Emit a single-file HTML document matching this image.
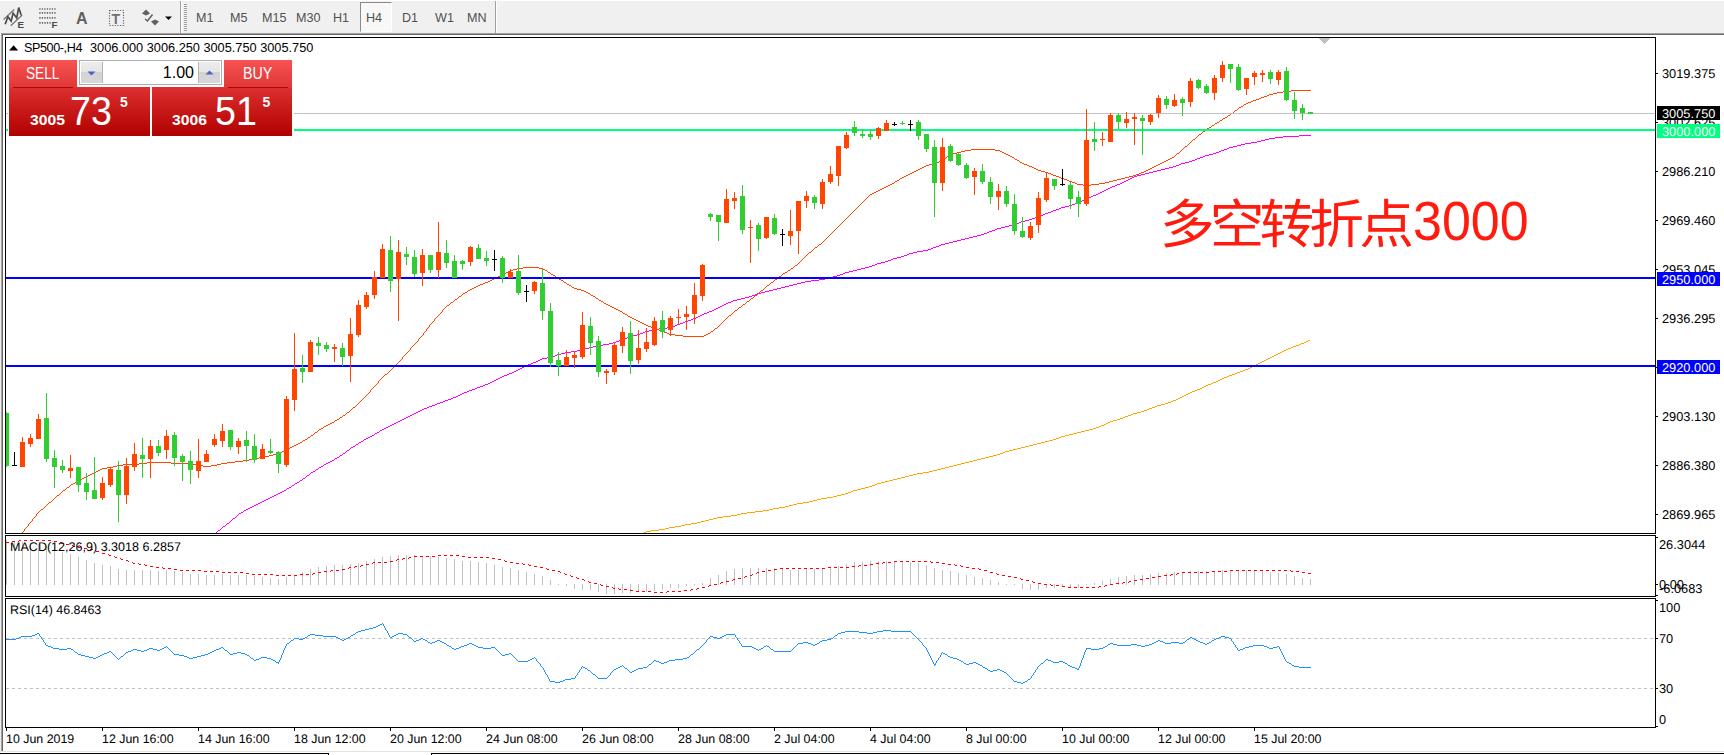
<!DOCTYPE html>
<html lang="zh"><head><meta charset="utf-8"><title>SP500-,H4</title>
<style>
html,body{margin:0;padding:0;background:#fff}
body{width:1724px;height:755px;position:relative;overflow:hidden;font-family:"Liberation Sans","Noto Sans CJK SC",sans-serif;color:#000}
.abs{position:absolute}
#tb{left:0;top:0;width:1724px;height:33px;background:#f0f0f0}
#tb .t{position:absolute;top:10px;font-size:12.6px;line-height:16px;color:#505050;white-space:nowrap}
.note{font-size:52.4px;line-height:72px;color:#ff1c0e;white-space:nowrap}
.ttl{left:24px;top:41px;font-size:12.6px;line-height:15px;white-space:pre}
.red{background:linear-gradient(#f85252,#e03636)}
.big{background:linear-gradient(#de3030,#b00000)}
.w{color:#fff;white-space:nowrap}
</style></head><body>
<div id="tb" class="abs">
<div class="abs" style="left:0;top:0;width:1724px;height:1px;background:#fff"></div>
<svg class="abs" style="left:0;top:0" width="200" height="33" viewBox="0 0 200 33">
 <g fill="none">
  <path d="M3.6 19.5 L14.3 9.4 M10.7 25.8 L22.2 15.1" stroke="#7a7a7a" stroke-width="1.4"/>
  <path d="M5.2 24.2 L7.9 16.7 L11.1 21.1 L13.1 13.1 L16.7 17.9 L18.7 7.6 L21.1 15.1" stroke="#4c4c4c" stroke-width="1.7" stroke-linejoin="miter"/>
 </g>
 <text x="17.6" y="28.4" font-family="Liberation Sans, sans-serif" font-size="9.8px" font-weight="bold" fill="#484848">E</text>
 <g stroke="#686868" stroke-width="1.7" stroke-dasharray="1.3 1.2" fill="none">
  <path d="M39.3 9H56.5 M39.3 12.8H56.5 M39.3 17.9H56.5 M39.3 22.9H51.5"/>
 </g>
 <text x="51.6" y="28.3" font-family="Liberation Sans, sans-serif" font-size="9.8px" font-weight="bold" fill="#484848">F</text>
 <text x="76" y="23.5" font-family="Liberation Sans, sans-serif" font-size="16px" font-weight="bold" fill="#606060">A</text>
 <rect x="109.5" y="10.5" width="14" height="15" fill="none" stroke="#707070" stroke-width="1.2" stroke-dasharray="1.3 1.3"/>
 <text x="111.5" y="23.5" font-family="Liberation Sans, sans-serif" font-size="14px" font-weight="bold" fill="#707070">T</text>
 <g fill="#606060"><path d="M142 13.5 L146 9.5 L150 13.5 L146 15.5Z"/><path d="M151 21.5 L155 25.5 L159 21.5 L155 19.5Z"/></g>
 <path d="M145 19 L147.5 21 L152.5 14.5" stroke="#606060" stroke-width="1.5" fill="none"/>
 <path d="M165 16.5 H172 L168.5 20Z" fill="#000"/>
 <rect x="180" y="1" width="1" height="32" fill="#a0a0a0"/><rect x="181" y="1" width="1" height="32" fill="#fff"/>
 <g fill="#a0a0a0"><rect x="184" y="4" width="3" height="1"/><rect x="184" y="6" width="3" height="1"/><rect x="184" y="8" width="3" height="1"/><rect x="184" y="10" width="3" height="1"/><rect x="184" y="12" width="3" height="1"/><rect x="184" y="14" width="3" height="1"/><rect x="184" y="16" width="3" height="1"/><rect x="184" y="18" width="3" height="1"/><rect x="184" y="20" width="3" height="1"/><rect x="184" y="22" width="3" height="1"/><rect x="184" y="24" width="3" height="1"/><rect x="184" y="26" width="3" height="1"/><rect x="184" y="28" width="3" height="1"/><rect x="184" y="30" width="3" height="1"/></g>
</svg>
<div class="abs" style="left:360px;top:2px;width:32px;height:30px;background:#f8f8f8;border-left:1px solid #8a8a8a;border-top:1px solid #8a8a8a;border-right:1px solid #fff;border-bottom:1px solid #fff;box-sizing:border-box"></div>
<span class="t" style="left:196px">M1</span><span class="t" style="left:230px">M5</span><span class="t" style="left:262px">M15</span><span class="t" style="left:296px">M30</span><span class="t" style="left:333px">H1</span><span class="t" style="left:366px">H4</span><span class="t" style="left:402px">D1</span><span class="t" style="left:435px">W1</span><span class="t" style="left:467px">MN</span>
<div class="abs" style="left:495px;top:1px;width:1px;height:32px;background:#a0a0a0"></div><div class="abs" style="left:496px;top:1px;width:1px;height:32px;background:#fff"></div>
</div>
<div class="abs" style="left:0;top:33px;width:1724px;height:1px;background:#a0a0a0"></div>
<div class="abs" style="left:0;top:34px;width:1724px;height:1px;background:#696969"></div>
<div class="abs" style="left:0;top:33px;width:1px;height:722px;background:#f0f0f0"></div>
<div class="abs" style="left:1px;top:33px;width:1px;height:719px;background:#a0a0a0"></div>
<div class="abs" style="left:2px;top:34px;width:1px;height:718px;background:#696969"></div>
<div class="abs" style="left:0;top:751px;width:1724px;height:1px;background:#e3e3e3"></div>
<div class="abs" style="left:0;top:753px;width:329px;height:1px;background:#000"></div>
<div class="abs" style="left:328px;top:753px;width:1px;height:2px;background:#000"></div>
<div class="abs" style="left:431px;top:753px;width:1293px;height:1px;background:#000"></div>
<div class="abs" style="left:431px;top:753px;width:1px;height:2px;background:#000"></div>
<svg width="1724" height="755" viewBox="0 0 1724 755" style="position:absolute;left:0;top:0" shape-rendering="crispEdges"><path d="M644 532.5h2m0-1h5m0-1h8m0-1h6m0-1h4m0-1h6m0-1h6m0-1h4m0-1h6m0-1h6m0-1h4m0-1h4m0-1h4m0-1h4m0-1h4m0-1h6m0-1h8m0-1h6m0-1h4m0-1h6m0-1h8m0-1h8m0-1h6m0-1h4m0-1h6m0-1h6m0-1h4m0-1h4m0-1h4m0-1h6m0-1h6m0-1h4m0-1h4m0-1h4m0-1h6m0-1h6m0-1h4m0-1h4m0-1h4m0-1h3m0-1h3m0-1h2m0-1h4m0-1h4m0-1h4m0-1h4m0-1h3m0-1h3m0-1h2m0-1h4m0-1h4m0-1h4m0-1h4m0-1h4m0-1h4m0-1h4m0-1h4m0-1h4m0-1h4m0-1h6m0-1h6m0-1h4m0-1h4m0-1h4m0-1h4m0-1h4m0-1h4m0-1h4m0-1h4m0-1h4m0-1h4m0-1h4m0-1h4m0-1h4m0-1h4m0-1h4m0-1h4m0-1h4m0-1h3m0-1h3m0-1h2m0-1h4m0-1h4m0-1h4m0-1h4m0-1h4m0-1h4m0-1h4m0-1h4m0-1h4m0-1h4m0-1h4m0-1h4m0-1h3m0-1h3m0-1h2m0-1h4m0-1h4m0-1h4m0-1h4m0-1h4m0-1h4m0-1h4m0-1h4m0-1h3m0-1h3m0-1h2m0-1h3m0-1h2m0-1h2m0-1h2m0-1h3m0-1h4m0-1h3m0-1h3m0-1h2m0-1h3m0-1h3m0-1h2m0-1h4m0-1h4m0-1h3m0-1h3m0-1h2m0-1h3m0-1h3m0-1h2m0-1h4m0-1h4m0-1h3m0-1h3m0-1h2m0-1h3m0-1h2m0-1h2m0-1h2m0-1h2m0-1h2m0-1h2m0-1h2m0-1h2m0-1h3m0-1h2m0-1h3m0-1h2m0-1h2m0-1h2m0-1h2m0-1h3m0-1h2m0-1h3m0-1h2m0-1h2m0-1h2m0-1h2m0-1h3m0-1h2m0-1h3m0-1h3m0-1h2m0-1h3m0-1h3m0-1h2m0-1h3m0-1h2m0-1h2m0-1h2m0-1h2m0-1h2m0-1h2m0-1h2m0-1h2m0-1h2m0-1h2m0-1h2m0-1h2m0-1h2m0-1h2m0-1h2m0-1h2m0-1h2m0-1h2m0-1h2m0-1h2m0-1h3m0-1h2m0-1h3m0-1h3m0-1h2m0-1h3m0-1h2m0-1h2m0-1h2" fill="none" stroke="#ffa500" stroke-width="1"/><path d="M216 532.5h1m0-1h1m0-1h2m0-1h1m0-1h1m0-1h1m0-1h2m0-1h1m0-1h1m0-1h2m0-1h1m0-1h1m0-1h1m0-1h1m0-1h2m0-1h1m0-1h1m0-1h1m0-1h1m0-1h2m0-1h2m0-1h1m0-1h2m0-1h2m0-1h2m0-1h2m0-1h2m0-1h2m0-1h2m0-1h2m0-1h2m0-1h2m0-1h2m0-1h2m0-1h2m0-1h2m0-1h2m0-1h2m0-1h2m0-1h2m0-1h2m0-1h2m0-1h2m0-1h1m0-1h2m0-1h2m0-1h1m0-1h2m0-1h1m0-1h2m0-1h2m0-1h1m0-1h2m0-1h1m0-1h2m0-1h1m0-1h1m0-1h2m0-1h1m0-1h1m0-1h2m0-1h2m0-1h1m0-1h2m0-1h1m0-1h2m0-1h2m0-1h1m0-1h2m0-1h2m0-1h2m0-1h2m0-1h2m0-1h1m0-1h2m0-1h2m0-1h1m0-1h2m0-1h1m0-1h2m0-1h1m0-1h1m0-1h2m0-1h1m0-1h1m0-1h2m0-1h2m0-1h1m0-1h2m0-1h1m0-1h2m0-1h2m0-1h1m0-1h2m0-1h2m0-1h2m0-1h2m0-1h2m0-1h1m0-1h2m0-1h2m0-1h1m0-1h2m0-1h2m0-1h2m0-1h2m0-1h2m0-1h2m0-1h2m0-1h2m0-1h2m0-1h2m0-1h2m0-1h2m0-1h2m0-1h2m0-1h2m0-1h2m0-1h2m0-1h2m0-1h2m0-1h2m0-1h2m0-1h2m0-1h3m0-1h2m0-1h3m0-1h3m0-1h2m0-1h3m0-1h3m0-1h2m0-1h3m0-1h3m0-1h2m0-1h3m0-1h2m0-1h2m0-1h2m0-1h2m0-1h3m0-1h2m0-1h3m0-1h3m0-1h2m0-1h3m0-1h3m0-1h2m0-1h3m0-1h2m0-1h2m0-1h2m0-1h2m0-1h2m0-1h2m0-1h2m0-1h2m0-1h3m0-1h2m0-1h3m0-1h2m0-1h2m0-1h2m0-1h2m0-1h2m0-1h2m0-1h2m0-1h2m0-1h3m0-1h2m0-1h3m0-1h2m0-1h2m0-1h2m0-1h5m0-1h5m0-1h3m0-1h2m0-1h4m0-1h4m0-1h6m0-1h6m0-1h4m0-1h4m0-1h4m0-1h4m0-1h4m0-1h6m0-1h6m0-1h4m0-1h3m0-1h3m0-1h2m0-1h3m0-1h3m0-1h2m0-1h4m0-1h4m0-1h3m0-1h3m0-1h2m0-1h4m0-1h4m0-1h6m0-1h8m0-1h5m0-1h3m0-1h2m0-1h3m0-1h3m0-1h2m0-1h3m0-1h3m0-1h2m0-1h3m0-1h2m0-1h2m0-1h2m0-1h2m0-1h3m0-1h2m0-1h3m0-1h2m0-1h2m0-1h2m0-1h2m0-1h2m0-1h2m0-1h2m0-1h2m0-1h3m0-1h2m0-1h4m0-1h4m0-1h4m0-1h4m0-1h3m0-1h3m0-1h2m0-1h4m0-1h4m0-1h4m0-1h4m0-1h4m0-1h4m0-1h4m0-1h4m0-1h4m0-1h4m0-1h4m0-1h4m0-1h6m0-1h8m0-1h6m0-1h4m0-1h4m0-1h4m0-1h3m0-1h3m0-1h2m0-1h4m0-1h4m0-1h4m0-1h4m0-1h4m0-1h4m0-1h3m0-1h3m0-1h2m0-1h4m0-1h4m0-1h3m0-1h3m0-1h2m0-1h4m0-1h4m0-1h3m0-1h3m0-1h2m0-1h4m0-1h4m0-1h6m0-1h5m0-1h3m0-1h2m0-1h3m0-1h3m0-1h2m0-1h4m0-1h4m0-1h4m0-1h4m0-1h4m0-1h4m0-1h4m0-1h4m0-1h4m0-1h4m0-1h3m0-1h3m0-1h2m0-1h3m0-1h3m0-1h2m0-1h4m0-1h4m0-1h4m0-1h4m0-1h3m0-1h3m0-1h2m0-1h4m0-1h4m0-1h3m0-1h3m0-1h2m0-1h3m0-1h3m0-1h2m0-1h3m0-1h3m0-1h2m0-1h3m0-1h3m0-1h2m0-1h4m0-1h4m0-1h3m0-1h3m0-1h2m0-1h3m0-1h2m0-1h2m0-1h2m0-1h2m0-1h3m0-1h2m0-1h3m0-1h2m0-1h2m0-1h2m0-1h2m0-1h2m0-1h2m0-1h2m0-1h2m0-1h3m0-1h2m0-1h3m0-1h2m0-1h2m0-1h2m0-1h2m0-1h2m0-1h2m0-1h2m0-1h3m0-1h4m0-1h4m0-1h4m0-1h4m0-1h4m0-1h4m0-1h4m0-1h4m0-1h4m0-1h3m0-1h3m0-1h2m0-1h4m0-1h4m0-1h3m0-1h3m0-1h2m0-1h3m0-1h3m0-1h2m0-1h4m0-1h4m0-1h3m0-1h3m0-1h2m0-1h3m0-1h3m0-1h2m0-1h4m0-1h4m0-1h4m0-1h4m0-1h6m0-1h6m0-1h4m0-1h4m0-1h4m0-1h6m0-1h8m0-1h16m0-1h12" fill="none" stroke="#ff00ff" stroke-width="1"/><path d="M22 532.5h1m0-1h1m0-1h1m-1-1h1m0-1h1m0-1h1m0-1h1m0-1h1m-1-1h1m0-1h1m0-1h1m0-1h1m0-1h1m-1-1h1m0-1h1m0-1h1m0-1h1m0-1h1m-1-1h1m0-1h1m0-1h1m0-1h1m0-1h1m0-1h2m0-1h1m0-1h1m0-1h1m0-1h1m0-1h1m0-1h1m0-1h2m0-1h1m0-1h1m0-1h1m0-1h1m0-1h1m0-1h1m0-1h2m0-1h1m0-1h1m0-1h1m0-1h1m0-1h2m0-1h1m0-1h1m0-1h2m0-1h1m0-1h1m0-1h2m0-1h2m0-1h1m0-1h2m0-1h2m0-1h2m0-1h2m0-1h2m0-1h2m0-1h2m0-1h2m0-1h2m0-1h2m0-1h2m0-1h2m0-1h2m0-1h5m0-1h6m0-1h4m0-1h6m0-1h16m0-1h8m0-1h24m0 1h22m0 1h4m0 1h6m0 1h8m0-1h6m0-1h4m0-1h6m0-1h8m0-1h8m0-1h6m0-1h4m0-1h6m0-1h6m0-1h4m0-1h4m0-1h4m0-1h3m0-1h2m0-1h2m0-1h2m0-1h2m0-1h2m0-1h2m0-1h2m0-1h2m0-1h2m0-1h2m0-1h2m0-1h1m0-1h2m0-1h2m0-1h1m0-1h2m0-1h1m0-1h2m0-1h1m0-1h1m0-1h2m0-1h1m0-1h1m0-1h2m0-1h2m0-1h1m0-1h2m0-1h2m0-1h2m0-1h2m0-1h2m0-1h1m0-1h2m0-1h2m0-1h1m0-1h2m0-1h1m0-1h2m0-1h1m0-1h1m0-1h2m0-1h1m0-1h1m0-1h1m0-1h1m0-1h2m0-1h1m0-1h1m0-1h1m0-1h1m0-1h1m0-1h1m0-1h1m0-1h1m0-1h1m0-1h1m0-1h1m0-1h1m0-1h1m0-1h1m0-1h1m0-1h1m-1-1h1m0-1h1m0-1h1m0-1h1m0-1h1m0-1h1m0-1h1m0-1h1m0-1h1m-1-1h1m0-1h1m0-1h1m0-1h1m0-1h1m0-1h1m0-1h1m0-1h2m0-1h1m0-1h1m0-1h1m0-1h1m0-1h1m0-1h1m0-1h1m0-1h1m0-1h1m0-1h1m0-1h1m0-1h1m0-1h1m0-1h1m0-1h1m0-1h1m-1-1h1m0-1h1m0-1h1m0-1h1m0-1h1m0-1h1m0-1h1m0-1h1m0-1h1m-1-1h1m0-1h1m0-1h1m0-1h1m0-1h1m0-1h1m0-1h1m0-1h1m0-1h1m-1-1h1m0-1h1m0-1h1m0-1h1m0-1h1m0-1h1m-1-1h1m0-1h1m0-1h1m0-1h1m-1-1h1m0-1h1m0-1h1m0-1h1m-1-1h1m0-1h1m0-1h1m0-1h1m0-1h1m0-1h1m-1-1h1m0-1h1m0-1h1m0-1h1m0-1h1m0-1h1m0-1h1m0-1h1m0-1h1m-1-1h1m0-1h1m0-1h1m0-1h1m0-1h1m0-1h2m0-1h1m0-1h1m0-1h2m0-1h1m0-1h1m0-1h2m0-1h1m0-1h1m0-1h2m0-1h1m0-1h1m0-1h2m0-1h2m0-1h1m0-1h2m0-1h2m0-1h2m0-1h2m0-1h2m0-1h2m0-1h3m0-1h2m0-1h3m0-1h2m0-1h2m0-1h2m0-1h2m0-1h2m0-1h2m0-1h2m0-1h2m0-1h2m0-1h2m0-1h2m0-1h3m0-1h4m0-1h6m0-1h16m0 1h4m0 1h2m0 1h2m0 1h1m0 1h2m0 1h1m0 1h2m0 1h2m0 1h1m0 1h2m0 1h1m0 1h2m0 1h2m0 1h1m0 1h2m0 1h1m0 1h2m0 1h2m0 1h1m0 1h2m0 1h3m0 1h4m0 1h3m0 1h2m0 1h2m0 1h2m0 1h1m0 1h2m0 1h2m0 1h1m0 1h2m0 1h1m0 1h2m0 1h2m0 1h1m0 1h2m0 1h2m0 1h2m0 1h2m0 1h2m0 1h2m0 1h2m0 1h2m0 1h2m0 1h1m0 1h2m0 1h2m0 1h1m0 1h2m0 1h2m0 1h2m0 1h2m0 1h2m0 1h2m0 1h2m0 1h2m0 1h2m0 1h2m0 1h3m0 1h2m0 1h3m0 1h3m0 1h2m0 1h3m0 1h3m0 1h2m0 1h6m0 1h8m0 1h21m0-1h2m0-1h2m0-1h2m0-1h1m0-1h2m0-1h1m0-1h1m0-1h2m0-1h1m0-1h1m0-1h1m0-1h1m0-1h1m0-1h1m0-1h1m0-1h1m0-1h1m0-1h1m0-1h1m0-1h1m0-1h2m0-1h1m0-1h1m0-1h1m0-1h1m0-1h2m0-1h1m0-1h1m0-1h2m0-1h1m0-1h1m0-1h2m0-1h1m0-1h1m0-1h2m0-1h1m0-1h1m0-1h2m0-1h1m0-1h1m0-1h2m0-1h1m0-1h1m0-1h1m0-1h1m0-1h2m0-1h1m0-1h1m0-1h1m0-1h1m0-1h2m0-1h1m0-1h1m0-1h2m0-1h1m0-1h1m0-1h2m0-1h1m0-1h1m0-1h2m0-1h1m0-1h1m0-1h2m0-1h2m0-1h1m0-1h2m0-1h1m0-1h2m0-1h1m0-1h1m0-1h2m0-1h1m0-1h1m0-1h1m0-1h1m0-1h1m0-1h1m0-1h1m0-1h1m0-1h1m0-1h1m0-1h1m0-1h1m0-1h2m0-1h1m0-1h1m0-1h1m0-1h1m0-1h2m0-1h1m0-1h1m0-1h2m0-1h1m0-1h1m0-1h1m0-1h1m0-1h1m0-1h1m0-1h1m0-1h1m0-1h1m0-1h1m0-1h1m0-1h1m0-1h1m0-1h1m0-1h1m0-1h1m0-1h1m0-1h1m0-1h1m0-1h1m0-1h1m0-1h1m0-1h1m0-1h1m0-1h1m0-1h1m0-1h1m0-1h1m0-1h1m0-1h1m0-1h1m0-1h1m0-1h1m0-1h1m0-1h1m0-1h1m0-1h1m0-1h1m0-1h1m0-1h1m0-1h1m0-1h1m0-1h1m0-1h1m0-1h1m0-1h1m0-1h1m0-1h1m0-1h1m0-1h2m0-1h2m0-1h2m0-1h2m0-1h2m0-1h2m0-1h2m0-1h2m0-1h2m0-1h2m0-1h2m0-1h2m0-1h1m0-1h2m0-1h2m0-1h1m0-1h2m0-1h2m0-1h2m0-1h2m0-1h2m0-1h2m0-1h2m0-1h2m0-1h2m0-1h2m0-1h2m0-1h2m0-1h2m0-1h3m0-1h4m0-1h3m0-1h3m0-1h2m0-1h2m0-1h2m0-1h1m0-1h1m0-1h2m0-1h1m0-1h3m0-1h4m0-1h4m0-1h4m0-1h6m0-1h24m0 1h5m0 1h2m0 1h2m0 1h2m0 1h2m0 1h2m0 1h2m0 1h2m0 1h1m0 1h2m0 1h2m0 1h1m0 1h2m0 1h2m0 1h3m0 1h2m0 1h3m0 1h2m0 1h2m0 1h2m0 1h3m0 1h4m0 1h3m0 1h3m0 1h2m0 1h3m0 1h3m0 1h2m0 1h3m0 1h3m0 1h2m0 1h3m0 1h3m0 1h2m0 1h6m0 1h8m0-1h8m0-1h6m0-1h4m0-1h4m0-1h4m0-1h4m0-1h4m0-1h4m0-1h4m0-1h3m0-1h3m0-1h2m0-1h3m0-1h2m0-1h2m0-1h2m0-1h2m0-1h2m0-1h2m0-1h2m0-1h2m0-1h2m0-1h2m0-1h2m0-1h2m0-1h2m0-1h2m0-1h2m0-1h1m0-1h1m0-1h1m0-1h2m0-1h1m0-1h1m0-1h1m0-1h1m0-1h1m0-1h1m0-1h2m0-1h1m0-1h1m0-1h1m0-1h1m0-1h1m0-1h1m0-1h2m0-1h1m0-1h1m0-1h1m0-1h1m0-1h2m0-1h1m0-1h1m0-1h2m0-1h1m0-1h1m0-1h2m0-1h2m0-1h1m0-1h2m0-1h1m0-1h2m0-1h2m0-1h1m0-1h2m0-1h1m0-1h2m0-1h2m0-1h1m0-1h2m0-1h1m0-1h2m0-1h1m0-1h1m0-1h2m0-1h1m0-1h1m0-1h2m0-1h2m0-1h1m0-1h2m0-1h2m0-1h3m0-1h2m0-1h3m0-1h3m0-1h2m0-1h3m0-1h3m0-1h2m0-1h4m0-1h4m0-1h6m0-1h8m0-1h20" fill="none" stroke="#ff4500" stroke-width="1"/><rect x="6" y="113" width="1649" height="1" fill="#c0c0c0"/><rect x="6" y="129" width="1650" height="2" fill="#00ff7f"/><rect x="6" y="277" width="1650" height="2" fill="#0000ff"/><rect x="6" y="365" width="1650" height="2" fill="#0000ff"/><g><rect x="6" y="412" width="1" height="55" fill="#32cd32"/><rect x="6" y="413" width="3" height="53" fill="#32cd32"/><rect x="14" y="452" width="1" height="14" fill="#000"/><rect x="12" y="465" width="5" height="1" fill="#000"/><rect x="22" y="437" width="1" height="30" fill="#ff4500"/><rect x="20" y="442" width="5" height="25" fill="#ff4500"/><rect x="30" y="434" width="1" height="13" fill="#ff4500"/><rect x="28" y="438" width="5" height="6" fill="#ff4500"/><rect x="38" y="414" width="1" height="25" fill="#ff4500"/><rect x="36" y="419" width="5" height="20" fill="#ff4500"/><rect x="46" y="393" width="1" height="69" fill="#32cd32"/><rect x="44" y="418" width="5" height="41" fill="#32cd32"/><rect x="54" y="450" width="1" height="38" fill="#32cd32"/><rect x="52" y="458" width="5" height="9" fill="#32cd32"/><rect x="62" y="460" width="1" height="13" fill="#32cd32"/><rect x="60" y="466" width="5" height="4" fill="#32cd32"/><rect x="70" y="455" width="1" height="23" fill="#ff4500"/><rect x="68" y="468" width="5" height="3" fill="#ff4500"/><rect x="78" y="467" width="1" height="25" fill="#32cd32"/><rect x="76" y="467" width="5" height="18" fill="#32cd32"/><rect x="86" y="473" width="1" height="27" fill="#32cd32"/><rect x="84" y="483" width="5" height="9" fill="#32cd32"/><rect x="94" y="457" width="1" height="42" fill="#32cd32"/><rect x="92" y="490" width="5" height="9" fill="#32cd32"/><rect x="102" y="477" width="1" height="23" fill="#ff4500"/><rect x="100" y="483" width="5" height="15" fill="#ff4500"/><rect x="110" y="467" width="1" height="20" fill="#ff4500"/><rect x="108" y="469" width="5" height="16" fill="#ff4500"/><rect x="118" y="461" width="1" height="61" fill="#32cd32"/><rect x="116" y="470" width="5" height="25" fill="#32cd32"/><rect x="126" y="458" width="1" height="46" fill="#ff4500"/><rect x="124" y="466" width="5" height="29" fill="#ff4500"/><rect x="134" y="443" width="1" height="28" fill="#ff4500"/><rect x="132" y="454" width="5" height="13" fill="#ff4500"/><rect x="142" y="438" width="1" height="40" fill="#32cd32"/><rect x="140" y="455" width="5" height="4" fill="#32cd32"/><rect x="150" y="440" width="1" height="38" fill="#ff4500"/><rect x="148" y="446" width="5" height="13" fill="#ff4500"/><rect x="158" y="440" width="1" height="16" fill="#32cd32"/><rect x="156" y="446" width="5" height="7" fill="#32cd32"/><rect x="166" y="430" width="1" height="29" fill="#ff4500"/><rect x="164" y="436" width="5" height="14" fill="#ff4500"/><rect x="174" y="432" width="1" height="34" fill="#32cd32"/><rect x="172" y="435" width="5" height="23" fill="#32cd32"/><rect x="182" y="454" width="1" height="27" fill="#32cd32"/><rect x="180" y="456" width="5" height="6" fill="#32cd32"/><rect x="190" y="451" width="1" height="33" fill="#32cd32"/><rect x="188" y="461" width="5" height="9" fill="#32cd32"/><rect x="198" y="439" width="1" height="39" fill="#ff4500"/><rect x="196" y="461" width="5" height="10" fill="#ff4500"/><rect x="206" y="450" width="1" height="12" fill="#ff4500"/><rect x="204" y="454" width="5" height="8" fill="#ff4500"/><rect x="214" y="434" width="1" height="13" fill="#ff4500"/><rect x="212" y="439" width="5" height="6" fill="#ff4500"/><rect x="222" y="424" width="1" height="23" fill="#ff4500"/><rect x="220" y="431" width="5" height="10" fill="#ff4500"/><rect x="230" y="430" width="1" height="20" fill="#32cd32"/><rect x="228" y="430" width="5" height="17" fill="#32cd32"/><rect x="238" y="438" width="1" height="16" fill="#ff4500"/><rect x="236" y="441" width="5" height="6" fill="#ff4500"/><rect x="246" y="431" width="1" height="31" fill="#32cd32"/><rect x="244" y="440" width="5" height="6" fill="#32cd32"/><rect x="254" y="434" width="1" height="29" fill="#32cd32"/><rect x="252" y="446" width="5" height="14" fill="#32cd32"/><rect x="262" y="444" width="1" height="15" fill="#ff4500"/><rect x="260" y="449" width="5" height="10" fill="#ff4500"/><rect x="270" y="439" width="1" height="15" fill="#32cd32"/><rect x="268" y="451" width="5" height="2" fill="#32cd32"/><rect x="278" y="451" width="1" height="22" fill="#32cd32"/><rect x="276" y="452" width="5" height="12" fill="#32cd32"/><rect x="286" y="396" width="1" height="71" fill="#ff4500"/><rect x="284" y="399" width="5" height="66" fill="#ff4500"/><rect x="294" y="333" width="1" height="78" fill="#ff4500"/><rect x="292" y="369" width="5" height="31" fill="#ff4500"/><rect x="302" y="355" width="1" height="28" fill="#32cd32"/><rect x="300" y="368" width="5" height="4" fill="#32cd32"/><rect x="310" y="340" width="1" height="32" fill="#ff4500"/><rect x="308" y="342" width="5" height="30" fill="#ff4500"/><rect x="318" y="337" width="1" height="18" fill="#32cd32"/><rect x="316" y="343" width="5" height="3" fill="#32cd32"/><rect x="326" y="342" width="1" height="10" fill="#32cd32"/><rect x="324" y="345" width="5" height="4" fill="#32cd32"/><rect x="334" y="344" width="1" height="18" fill="#ff4500"/><rect x="332" y="347" width="5" height="2" fill="#ff4500"/><rect x="342" y="343" width="1" height="23" fill="#32cd32"/><rect x="340" y="348" width="5" height="9" fill="#32cd32"/><rect x="350" y="318" width="1" height="64" fill="#ff4500"/><rect x="348" y="334" width="5" height="22" fill="#ff4500"/><rect x="358" y="300" width="1" height="37" fill="#ff4500"/><rect x="356" y="305" width="5" height="30" fill="#ff4500"/><rect x="366" y="292" width="1" height="17" fill="#ff4500"/><rect x="364" y="295" width="5" height="12" fill="#ff4500"/><rect x="374" y="271" width="1" height="28" fill="#ff4500"/><rect x="372" y="277" width="5" height="18" fill="#ff4500"/><rect x="382" y="244" width="1" height="34" fill="#ff4500"/><rect x="380" y="249" width="5" height="29" fill="#ff4500"/><rect x="390" y="236" width="1" height="56" fill="#32cd32"/><rect x="388" y="250" width="5" height="31" fill="#32cd32"/><rect x="398" y="240" width="1" height="81" fill="#ff4500"/><rect x="396" y="252" width="5" height="27" fill="#ff4500"/><rect x="406" y="247" width="1" height="18" fill="#32cd32"/><rect x="404" y="254" width="5" height="3" fill="#32cd32"/><rect x="414" y="250" width="1" height="27" fill="#32cd32"/><rect x="412" y="257" width="5" height="17" fill="#32cd32"/><rect x="422" y="249" width="1" height="37" fill="#ff4500"/><rect x="420" y="255" width="5" height="18" fill="#ff4500"/><rect x="430" y="255" width="1" height="18" fill="#32cd32"/><rect x="428" y="255" width="5" height="15" fill="#32cd32"/><rect x="438" y="222" width="1" height="56" fill="#ff4500"/><rect x="436" y="252" width="5" height="18" fill="#ff4500"/><rect x="446" y="240" width="1" height="28" fill="#32cd32"/><rect x="444" y="253" width="5" height="10" fill="#32cd32"/><rect x="454" y="255" width="1" height="23" fill="#32cd32"/><rect x="452" y="261" width="5" height="17" fill="#32cd32"/><rect x="462" y="260" width="1" height="10" fill="#32cd32"/><rect x="460" y="261" width="5" height="3" fill="#32cd32"/><rect x="470" y="246" width="1" height="20" fill="#ff4500"/><rect x="468" y="247" width="5" height="15" fill="#ff4500"/><rect x="478" y="244" width="1" height="15" fill="#32cd32"/><rect x="476" y="248" width="5" height="11" fill="#32cd32"/><rect x="486" y="251" width="1" height="15" fill="#32cd32"/><rect x="484" y="258" width="5" height="3" fill="#32cd32"/><rect x="494" y="250" width="1" height="21" fill="#000"/><rect x="492" y="259" width="5" height="1" fill="#000"/><rect x="502" y="256" width="1" height="27" fill="#32cd32"/><rect x="500" y="258" width="5" height="20" fill="#32cd32"/><rect x="510" y="269" width="1" height="9" fill="#ff4500"/><rect x="508" y="272" width="5" height="6" fill="#ff4500"/><rect x="518" y="255" width="1" height="40" fill="#32cd32"/><rect x="516" y="271" width="5" height="22" fill="#32cd32"/><rect x="526" y="285" width="1" height="17" fill="#000"/><rect x="524" y="291" width="5" height="1" fill="#000"/><rect x="534" y="281" width="1" height="13" fill="#ff4500"/><rect x="532" y="282" width="5" height="9" fill="#ff4500"/><rect x="542" y="269" width="1" height="51" fill="#32cd32"/><rect x="540" y="283" width="5" height="28" fill="#32cd32"/><rect x="550" y="303" width="1" height="64" fill="#32cd32"/><rect x="548" y="311" width="5" height="52" fill="#32cd32"/><rect x="558" y="352" width="1" height="24" fill="#32cd32"/><rect x="556" y="360" width="5" height="6" fill="#32cd32"/><rect x="566" y="350" width="1" height="16" fill="#ff4500"/><rect x="564" y="357" width="5" height="9" fill="#ff4500"/><rect x="574" y="351" width="1" height="17" fill="#ff4500"/><rect x="572" y="355" width="5" height="3" fill="#ff4500"/><rect x="582" y="312" width="1" height="47" fill="#ff4500"/><rect x="580" y="325" width="5" height="32" fill="#ff4500"/><rect x="590" y="317" width="1" height="38" fill="#32cd32"/><rect x="588" y="326" width="5" height="17" fill="#32cd32"/><rect x="598" y="336" width="1" height="41" fill="#32cd32"/><rect x="596" y="341" width="5" height="31" fill="#32cd32"/><rect x="606" y="369" width="1" height="15" fill="#ff4500"/><rect x="604" y="371" width="5" height="2" fill="#ff4500"/><rect x="614" y="342" width="1" height="33" fill="#ff4500"/><rect x="612" y="345" width="5" height="27" fill="#ff4500"/><rect x="622" y="327" width="1" height="26" fill="#ff4500"/><rect x="620" y="332" width="5" height="14" fill="#ff4500"/><rect x="630" y="321" width="1" height="53" fill="#32cd32"/><rect x="628" y="333" width="5" height="28" fill="#32cd32"/><rect x="638" y="330" width="1" height="34" fill="#ff4500"/><rect x="636" y="348" width="5" height="12" fill="#ff4500"/><rect x="646" y="328" width="1" height="24" fill="#ff4500"/><rect x="644" y="342" width="5" height="7" fill="#ff4500"/><rect x="654" y="317" width="1" height="29" fill="#ff4500"/><rect x="652" y="321" width="5" height="24" fill="#ff4500"/><rect x="662" y="311" width="1" height="27" fill="#32cd32"/><rect x="660" y="320" width="5" height="12" fill="#32cd32"/><rect x="670" y="316" width="1" height="20" fill="#ff4500"/><rect x="668" y="318" width="5" height="12" fill="#ff4500"/><rect x="678" y="309" width="1" height="16" fill="#ff4500"/><rect x="676" y="317" width="5" height="1" fill="#ff4500"/><rect x="686" y="306" width="1" height="24" fill="#ff4500"/><rect x="684" y="314" width="5" height="3" fill="#ff4500"/><rect x="694" y="283" width="1" height="41" fill="#ff4500"/><rect x="692" y="295" width="5" height="19" fill="#ff4500"/><rect x="702" y="264" width="1" height="37" fill="#ff4500"/><rect x="700" y="265" width="5" height="31" fill="#ff4500"/><rect x="710" y="213" width="1" height="8" fill="#32cd32"/><rect x="708" y="214" width="5" height="3" fill="#32cd32"/><rect x="718" y="215" width="1" height="26" fill="#32cd32"/><rect x="716" y="215" width="5" height="7" fill="#32cd32"/><rect x="726" y="189" width="1" height="34" fill="#ff4500"/><rect x="724" y="199" width="5" height="24" fill="#ff4500"/><rect x="734" y="192" width="1" height="17" fill="#ff4500"/><rect x="732" y="198" width="5" height="3" fill="#ff4500"/><rect x="742" y="185" width="1" height="49" fill="#32cd32"/><rect x="740" y="196" width="5" height="34" fill="#32cd32"/><rect x="750" y="220" width="1" height="43" fill="#ff4500"/><rect x="748" y="227" width="5" height="1" fill="#ff4500"/><rect x="758" y="223" width="1" height="28" fill="#32cd32"/><rect x="756" y="225" width="5" height="14" fill="#32cd32"/><rect x="766" y="217" width="1" height="22" fill="#ff4500"/><rect x="764" y="217" width="5" height="21" fill="#ff4500"/><rect x="774" y="214" width="1" height="21" fill="#32cd32"/><rect x="772" y="218" width="5" height="16" fill="#32cd32"/><rect x="782" y="229" width="1" height="17" fill="#000"/><rect x="780" y="234" width="5" height="1" fill="#000"/><rect x="790" y="210" width="1" height="35" fill="#ff4500"/><rect x="788" y="231" width="5" height="5" fill="#ff4500"/><rect x="798" y="201" width="1" height="53" fill="#ff4500"/><rect x="796" y="201" width="5" height="30" fill="#ff4500"/><rect x="806" y="191" width="1" height="17" fill="#ff4500"/><rect x="804" y="196" width="5" height="5" fill="#ff4500"/><rect x="814" y="195" width="1" height="14" fill="#32cd32"/><rect x="812" y="197" width="5" height="6" fill="#32cd32"/><rect x="822" y="179" width="1" height="30" fill="#ff4500"/><rect x="820" y="182" width="5" height="22" fill="#ff4500"/><rect x="830" y="166" width="1" height="18" fill="#ff4500"/><rect x="828" y="174" width="5" height="8" fill="#ff4500"/><rect x="838" y="146" width="1" height="40" fill="#ff4500"/><rect x="836" y="146" width="5" height="30" fill="#ff4500"/><rect x="846" y="132" width="1" height="17" fill="#ff4500"/><rect x="844" y="135" width="5" height="13" fill="#ff4500"/><rect x="854" y="121" width="1" height="15" fill="#32cd32"/><rect x="852" y="127" width="5" height="6" fill="#32cd32"/><rect x="862" y="129" width="1" height="9" fill="#32cd32"/><rect x="860" y="134" width="5" height="2" fill="#32cd32"/><rect x="870" y="130" width="1" height="10" fill="#32cd32"/><rect x="868" y="134" width="5" height="3" fill="#32cd32"/><rect x="878" y="127" width="1" height="12" fill="#ff4500"/><rect x="876" y="128" width="5" height="8" fill="#ff4500"/><rect x="886" y="120" width="1" height="11" fill="#ff4500"/><rect x="884" y="123" width="5" height="8" fill="#ff4500"/><rect x="894" y="122" width="1" height="4" fill="#000"/><rect x="892" y="124" width="5" height="1" fill="#000"/><rect x="902" y="121" width="1" height="4" fill="#32cd32"/><rect x="900" y="123" width="5" height="1" fill="#32cd32"/><rect x="910" y="120" width="1" height="11" fill="#000"/><rect x="908" y="124" width="5" height="1" fill="#000"/><rect x="918" y="120" width="1" height="20" fill="#32cd32"/><rect x="916" y="122" width="5" height="14" fill="#32cd32"/><rect x="926" y="134" width="1" height="18" fill="#32cd32"/><rect x="924" y="134" width="5" height="15" fill="#32cd32"/><rect x="934" y="140" width="1" height="77" fill="#32cd32"/><rect x="932" y="147" width="5" height="36" fill="#32cd32"/><rect x="942" y="138" width="1" height="53" fill="#ff4500"/><rect x="940" y="147" width="5" height="36" fill="#ff4500"/><rect x="950" y="144" width="1" height="18" fill="#32cd32"/><rect x="948" y="146" width="5" height="15" fill="#32cd32"/><rect x="958" y="153" width="1" height="13" fill="#32cd32"/><rect x="956" y="154" width="5" height="11" fill="#32cd32"/><rect x="966" y="163" width="1" height="16" fill="#32cd32"/><rect x="964" y="165" width="5" height="13" fill="#32cd32"/><rect x="974" y="168" width="1" height="27" fill="#ff4500"/><rect x="972" y="171" width="5" height="6" fill="#ff4500"/><rect x="982" y="164" width="1" height="20" fill="#32cd32"/><rect x="980" y="171" width="5" height="11" fill="#32cd32"/><rect x="990" y="177" width="1" height="27" fill="#32cd32"/><rect x="988" y="182" width="5" height="15" fill="#32cd32"/><rect x="998" y="184" width="1" height="26" fill="#ff4500"/><rect x="996" y="191" width="5" height="6" fill="#ff4500"/><rect x="1006" y="186" width="1" height="21" fill="#32cd32"/><rect x="1004" y="191" width="5" height="13" fill="#32cd32"/><rect x="1014" y="194" width="1" height="41" fill="#32cd32"/><rect x="1012" y="204" width="5" height="27" fill="#32cd32"/><rect x="1022" y="217" width="1" height="21" fill="#32cd32"/><rect x="1020" y="231" width="5" height="6" fill="#32cd32"/><rect x="1030" y="222" width="1" height="18" fill="#ff4500"/><rect x="1028" y="226" width="5" height="12" fill="#ff4500"/><rect x="1038" y="192" width="1" height="41" fill="#ff4500"/><rect x="1036" y="198" width="5" height="27" fill="#ff4500"/><rect x="1046" y="172" width="1" height="30" fill="#ff4500"/><rect x="1044" y="178" width="5" height="22" fill="#ff4500"/><rect x="1054" y="179" width="1" height="11" fill="#32cd32"/><rect x="1052" y="179" width="5" height="7" fill="#32cd32"/><rect x="1062" y="169" width="1" height="17" fill="#000"/><rect x="1060" y="184" width="5" height="1" fill="#000"/><rect x="1070" y="182" width="1" height="27" fill="#32cd32"/><rect x="1068" y="185" width="5" height="14" fill="#32cd32"/><rect x="1078" y="191" width="1" height="26" fill="#32cd32"/><rect x="1076" y="197" width="5" height="7" fill="#32cd32"/><rect x="1086" y="109" width="1" height="97" fill="#ff4500"/><rect x="1084" y="140" width="5" height="64" fill="#ff4500"/><rect x="1094" y="122" width="1" height="29" fill="#32cd32"/><rect x="1092" y="139" width="5" height="3" fill="#32cd32"/><rect x="1102" y="132" width="1" height="14" fill="#ff4500"/><rect x="1100" y="139" width="5" height="1" fill="#ff4500"/><rect x="1110" y="113" width="1" height="29" fill="#ff4500"/><rect x="1108" y="115" width="5" height="27" fill="#ff4500"/><rect x="1118" y="113" width="1" height="16" fill="#32cd32"/><rect x="1116" y="115" width="5" height="7" fill="#32cd32"/><rect x="1126" y="112" width="1" height="16" fill="#ff4500"/><rect x="1124" y="119" width="5" height="4" fill="#ff4500"/><rect x="1134" y="113" width="1" height="32" fill="#ff4500"/><rect x="1132" y="117" width="5" height="2" fill="#ff4500"/><rect x="1142" y="115" width="1" height="40" fill="#32cd32"/><rect x="1140" y="118" width="5" height="3" fill="#32cd32"/><rect x="1150" y="114" width="1" height="11" fill="#ff4500"/><rect x="1148" y="115" width="5" height="7" fill="#ff4500"/><rect x="1158" y="95" width="1" height="23" fill="#ff4500"/><rect x="1156" y="98" width="5" height="15" fill="#ff4500"/><rect x="1166" y="96" width="1" height="13" fill="#32cd32"/><rect x="1164" y="99" width="5" height="6" fill="#32cd32"/><rect x="1174" y="94" width="1" height="13" fill="#ff4500"/><rect x="1172" y="100" width="5" height="6" fill="#ff4500"/><rect x="1182" y="97" width="1" height="19" fill="#32cd32"/><rect x="1180" y="99" width="5" height="4" fill="#32cd32"/><rect x="1190" y="78" width="1" height="29" fill="#ff4500"/><rect x="1188" y="81" width="5" height="21" fill="#ff4500"/><rect x="1198" y="79" width="1" height="10" fill="#32cd32"/><rect x="1196" y="80" width="5" height="8" fill="#32cd32"/><rect x="1206" y="84" width="1" height="10" fill="#32cd32"/><rect x="1204" y="86" width="5" height="7" fill="#32cd32"/><rect x="1214" y="75" width="1" height="25" fill="#ff4500"/><rect x="1212" y="78" width="5" height="15" fill="#ff4500"/><rect x="1222" y="61" width="1" height="21" fill="#ff4500"/><rect x="1220" y="65" width="5" height="13" fill="#ff4500"/><rect x="1230" y="64" width="1" height="19" fill="#32cd32"/><rect x="1228" y="64" width="5" height="5" fill="#32cd32"/><rect x="1238" y="64" width="1" height="27" fill="#32cd32"/><rect x="1236" y="67" width="5" height="23" fill="#32cd32"/><rect x="1246" y="78" width="1" height="17" fill="#ff4500"/><rect x="1244" y="78" width="5" height="11" fill="#ff4500"/><rect x="1254" y="71" width="1" height="14" fill="#ff4500"/><rect x="1252" y="73" width="5" height="4" fill="#ff4500"/><rect x="1262" y="70" width="1" height="12" fill="#ff4500"/><rect x="1260" y="73" width="5" height="2" fill="#ff4500"/><rect x="1270" y="70" width="1" height="14" fill="#32cd32"/><rect x="1268" y="72" width="5" height="7" fill="#32cd32"/><rect x="1278" y="70" width="1" height="15" fill="#ff4500"/><rect x="1276" y="72" width="5" height="8" fill="#ff4500"/><rect x="1286" y="67" width="1" height="34" fill="#32cd32"/><rect x="1284" y="71" width="5" height="29" fill="#32cd32"/><rect x="1294" y="92" width="1" height="27" fill="#32cd32"/><rect x="1292" y="100" width="5" height="11" fill="#32cd32"/><rect x="1302" y="104" width="1" height="16" fill="#32cd32"/><rect x="1300" y="108" width="5" height="5" fill="#32cd32"/><rect x="1310" y="112" width="1" height="2" fill="#32cd32"/><rect x="1308" y="112" width="5" height="2" fill="#32cd32"/></g><g><rect x="6" y="540" width="1" height="45" fill="#c0c0c0"/><rect x="14" y="541" width="1" height="44" fill="#c0c0c0"/><rect x="22" y="542" width="1" height="43" fill="#c0c0c0"/><rect x="30" y="543" width="1" height="42" fill="#c0c0c0"/><rect x="38" y="544" width="1" height="41" fill="#c0c0c0"/><rect x="46" y="546" width="1" height="39" fill="#c0c0c0"/><rect x="54" y="549" width="1" height="36" fill="#c0c0c0"/><rect x="62" y="552" width="1" height="33" fill="#c0c0c0"/><rect x="70" y="554" width="1" height="31" fill="#c0c0c0"/><rect x="78" y="557" width="1" height="28" fill="#c0c0c0"/><rect x="86" y="560" width="1" height="25" fill="#c0c0c0"/><rect x="94" y="563" width="1" height="22" fill="#c0c0c0"/><rect x="102" y="565" width="1" height="20" fill="#c0c0c0"/><rect x="110" y="566" width="1" height="19" fill="#c0c0c0"/><rect x="118" y="569" width="1" height="16" fill="#c0c0c0"/><rect x="126" y="570" width="1" height="15" fill="#c0c0c0"/><rect x="134" y="570" width="1" height="15" fill="#c0c0c0"/><rect x="142" y="570" width="1" height="15" fill="#c0c0c0"/><rect x="150" y="570" width="1" height="15" fill="#c0c0c0"/><rect x="158" y="571" width="1" height="14" fill="#c0c0c0"/><rect x="166" y="570" width="1" height="15" fill="#c0c0c0"/><rect x="174" y="571" width="1" height="14" fill="#c0c0c0"/><rect x="182" y="572" width="1" height="13" fill="#c0c0c0"/><rect x="190" y="574" width="1" height="11" fill="#c0c0c0"/><rect x="198" y="574" width="1" height="11" fill="#c0c0c0"/><rect x="206" y="575" width="1" height="10" fill="#c0c0c0"/><rect x="214" y="575" width="1" height="10" fill="#c0c0c0"/><rect x="222" y="574" width="1" height="11" fill="#c0c0c0"/><rect x="230" y="575" width="1" height="10" fill="#c0c0c0"/><rect x="238" y="575" width="1" height="10" fill="#c0c0c0"/><rect x="246" y="575" width="1" height="10" fill="#c0c0c0"/><rect x="254" y="576" width="1" height="9" fill="#c0c0c0"/><rect x="262" y="577" width="1" height="8" fill="#c0c0c0"/><rect x="270" y="578" width="1" height="7" fill="#c0c0c0"/><rect x="278" y="579" width="1" height="6" fill="#c0c0c0"/><rect x="286" y="577" width="1" height="8" fill="#c0c0c0"/><rect x="294" y="575" width="1" height="10" fill="#c0c0c0"/><rect x="302" y="572" width="1" height="13" fill="#c0c0c0"/><rect x="310" y="569" width="1" height="16" fill="#c0c0c0"/><rect x="318" y="567" width="1" height="18" fill="#c0c0c0"/><rect x="326" y="566" width="1" height="19" fill="#c0c0c0"/><rect x="334" y="565" width="1" height="20" fill="#c0c0c0"/><rect x="342" y="565" width="1" height="20" fill="#c0c0c0"/><rect x="350" y="564" width="1" height="21" fill="#c0c0c0"/><rect x="358" y="563" width="1" height="22" fill="#c0c0c0"/><rect x="366" y="561" width="1" height="24" fill="#c0c0c0"/><rect x="374" y="559" width="1" height="26" fill="#c0c0c0"/><rect x="382" y="557" width="1" height="28" fill="#c0c0c0"/><rect x="390" y="556" width="1" height="29" fill="#c0c0c0"/><rect x="398" y="555" width="1" height="30" fill="#c0c0c0"/><rect x="406" y="555" width="1" height="30" fill="#c0c0c0"/><rect x="414" y="555" width="1" height="30" fill="#c0c0c0"/><rect x="422" y="556" width="1" height="29" fill="#c0c0c0"/><rect x="430" y="556" width="1" height="29" fill="#c0c0c0"/><rect x="438" y="557" width="1" height="28" fill="#c0c0c0"/><rect x="446" y="558" width="1" height="27" fill="#c0c0c0"/><rect x="454" y="559" width="1" height="26" fill="#c0c0c0"/><rect x="462" y="561" width="1" height="24" fill="#c0c0c0"/><rect x="470" y="561" width="1" height="24" fill="#c0c0c0"/><rect x="478" y="562" width="1" height="23" fill="#c0c0c0"/><rect x="486" y="563" width="1" height="22" fill="#c0c0c0"/><rect x="494" y="565" width="1" height="20" fill="#c0c0c0"/><rect x="502" y="567" width="1" height="18" fill="#c0c0c0"/><rect x="510" y="568" width="1" height="17" fill="#c0c0c0"/><rect x="518" y="570" width="1" height="15" fill="#c0c0c0"/><rect x="526" y="572" width="1" height="13" fill="#c0c0c0"/><rect x="534" y="574" width="1" height="11" fill="#c0c0c0"/><rect x="542" y="576" width="1" height="9" fill="#c0c0c0"/><rect x="550" y="580" width="1" height="5" fill="#c0c0c0"/><rect x="558" y="584" width="1" height="1" fill="#c0c0c0"/><rect x="566" y="584" width="1" height="2" fill="#c0c0c0"/><rect x="574" y="584" width="1" height="5" fill="#c0c0c0"/><rect x="582" y="584" width="1" height="6" fill="#c0c0c0"/><rect x="590" y="584" width="1" height="6" fill="#c0c0c0"/><rect x="598" y="584" width="1" height="8" fill="#c0c0c0"/><rect x="606" y="584" width="1" height="10" fill="#c0c0c0"/><rect x="614" y="584" width="1" height="10" fill="#c0c0c0"/><rect x="622" y="584" width="1" height="9" fill="#c0c0c0"/><rect x="630" y="584" width="1" height="9" fill="#c0c0c0"/><rect x="638" y="584" width="1" height="8" fill="#c0c0c0"/><rect x="646" y="584" width="1" height="8" fill="#c0c0c0"/><rect x="654" y="584" width="1" height="7" fill="#c0c0c0"/><rect x="662" y="584" width="1" height="6" fill="#c0c0c0"/><rect x="670" y="584" width="1" height="4" fill="#c0c0c0"/><rect x="678" y="584" width="1" height="4" fill="#c0c0c0"/><rect x="686" y="584" width="1" height="2" fill="#c0c0c0"/><rect x="694" y="584" width="1" height="1" fill="#c0c0c0"/><rect x="702" y="583" width="1" height="2" fill="#c0c0c0"/><rect x="710" y="578" width="1" height="7" fill="#c0c0c0"/><rect x="718" y="575" width="1" height="10" fill="#c0c0c0"/><rect x="726" y="571" width="1" height="14" fill="#c0c0c0"/><rect x="734" y="569" width="1" height="16" fill="#c0c0c0"/><rect x="742" y="568" width="1" height="17" fill="#c0c0c0"/><rect x="750" y="568" width="1" height="17" fill="#c0c0c0"/><rect x="758" y="568" width="1" height="17" fill="#c0c0c0"/><rect x="766" y="568" width="1" height="17" fill="#c0c0c0"/><rect x="774" y="568" width="1" height="17" fill="#c0c0c0"/><rect x="782" y="569" width="1" height="16" fill="#c0c0c0"/><rect x="790" y="570" width="1" height="15" fill="#c0c0c0"/><rect x="798" y="570" width="1" height="15" fill="#c0c0c0"/><rect x="806" y="569" width="1" height="16" fill="#c0c0c0"/><rect x="814" y="569" width="1" height="16" fill="#c0c0c0"/><rect x="822" y="568" width="1" height="17" fill="#c0c0c0"/><rect x="830" y="567" width="1" height="18" fill="#c0c0c0"/><rect x="838" y="566" width="1" height="19" fill="#c0c0c0"/><rect x="846" y="564" width="1" height="21" fill="#c0c0c0"/><rect x="854" y="562" width="1" height="23" fill="#c0c0c0"/><rect x="862" y="562" width="1" height="23" fill="#c0c0c0"/><rect x="870" y="561" width="1" height="24" fill="#c0c0c0"/><rect x="878" y="561" width="1" height="24" fill="#c0c0c0"/><rect x="886" y="561" width="1" height="24" fill="#c0c0c0"/><rect x="894" y="561" width="1" height="24" fill="#c0c0c0"/><rect x="902" y="561" width="1" height="24" fill="#c0c0c0"/><rect x="910" y="562" width="1" height="23" fill="#c0c0c0"/><rect x="918" y="563" width="1" height="22" fill="#c0c0c0"/><rect x="926" y="565" width="1" height="20" fill="#c0c0c0"/><rect x="934" y="568" width="1" height="17" fill="#c0c0c0"/><rect x="942" y="570" width="1" height="15" fill="#c0c0c0"/><rect x="950" y="571" width="1" height="14" fill="#c0c0c0"/><rect x="958" y="573" width="1" height="12" fill="#c0c0c0"/><rect x="966" y="575" width="1" height="10" fill="#c0c0c0"/><rect x="974" y="577" width="1" height="8" fill="#c0c0c0"/><rect x="982" y="578" width="1" height="7" fill="#c0c0c0"/><rect x="990" y="580" width="1" height="5" fill="#c0c0c0"/><rect x="998" y="582" width="1" height="3" fill="#c0c0c0"/><rect x="1006" y="584" width="1" height="1" fill="#c0c0c0"/><rect x="1014" y="584" width="1" height="1" fill="#c0c0c0"/><rect x="1022" y="584" width="1" height="5" fill="#c0c0c0"/><rect x="1030" y="584" width="1" height="6" fill="#c0c0c0"/><rect x="1038" y="584" width="1" height="6" fill="#c0c0c0"/><rect x="1046" y="584" width="1" height="4" fill="#c0c0c0"/><rect x="1054" y="584" width="1" height="4" fill="#c0c0c0"/><rect x="1062" y="584" width="1" height="3" fill="#c0c0c0"/><rect x="1070" y="584" width="1" height="4" fill="#c0c0c0"/><rect x="1078" y="584" width="1" height="4" fill="#c0c0c0"/><rect x="1086" y="584" width="1" height="1" fill="#c0c0c0"/><rect x="1094" y="583" width="1" height="2" fill="#c0c0c0"/><rect x="1102" y="581" width="1" height="4" fill="#c0c0c0"/><rect x="1110" y="579" width="1" height="6" fill="#c0c0c0"/><rect x="1118" y="577" width="1" height="8" fill="#c0c0c0"/><rect x="1126" y="576" width="1" height="9" fill="#c0c0c0"/><rect x="1134" y="575" width="1" height="10" fill="#c0c0c0"/><rect x="1142" y="575" width="1" height="10" fill="#c0c0c0"/><rect x="1150" y="574" width="1" height="11" fill="#c0c0c0"/><rect x="1158" y="573" width="1" height="12" fill="#c0c0c0"/><rect x="1166" y="573" width="1" height="12" fill="#c0c0c0"/><rect x="1174" y="572" width="1" height="13" fill="#c0c0c0"/><rect x="1182" y="572" width="1" height="13" fill="#c0c0c0"/><rect x="1190" y="571" width="1" height="14" fill="#c0c0c0"/><rect x="1198" y="571" width="1" height="14" fill="#c0c0c0"/><rect x="1206" y="571" width="1" height="14" fill="#c0c0c0"/><rect x="1214" y="571" width="1" height="14" fill="#c0c0c0"/><rect x="1222" y="570" width="1" height="15" fill="#c0c0c0"/><rect x="1230" y="570" width="1" height="15" fill="#c0c0c0"/><rect x="1238" y="570" width="1" height="15" fill="#c0c0c0"/><rect x="1246" y="570" width="1" height="15" fill="#c0c0c0"/><rect x="1254" y="571" width="1" height="14" fill="#c0c0c0"/><rect x="1262" y="571" width="1" height="14" fill="#c0c0c0"/><rect x="1270" y="572" width="1" height="13" fill="#c0c0c0"/><rect x="1278" y="573" width="1" height="12" fill="#c0c0c0"/><rect x="1286" y="574" width="1" height="11" fill="#c0c0c0"/><rect x="1294" y="576" width="1" height="9" fill="#c0c0c0"/><rect x="1302" y="578" width="1" height="7" fill="#c0c0c0"/><rect x="1310" y="579" width="1" height="6" fill="#c0c0c0"/></g><path d="M6 542.5h3m3-1h3m3 0h1m0-1h2m3 0h3m3 0h3m3 0h3m3 0h3m3 0h3m3 1h3m3 1h1m0 1h2m3 1h3m3 1h1m0 1h2m3 1h3m3 1h3m3 1h3m3 2h3m3 2h3m3 1h1m0 1h2m3 1h1m0 1h2m3 1h1m0 1h2m3 1h2m0 1h1m3 1h1m0 1h2m3 0h1m0 1h2m3 0h1m0 1h2m3 1h3m3 1h3m3 0h1m0 1h2m3 0h3m3 1h3m3 1h3m3 0h3m3 0h3m3 0h3m3 1h3m3 0h3m3 0h3m3 1h3m3 0h3m3 0h3m3 0h3m3 1h3m3 1h3m3 0h3m3 0h3m3 0h3m3 1h3m3 0h3m3 0h3m3 0h3m3-1h3m3 0h3m3 0h1m0-1h2m3-1h3m3-1h3m3 0h1m0-1h2m3 0h3m3-1h3m3-1h1m0-1h2m3 0h1m0-1h2m3 0h1m0-1h2m3-1h3m3-1h1m0-1h2m3 0h3m3 0h3m3-1h3m3-1h1m0-1h2m3 0h1m0-1h2m3 0h1m0-1h2m3-1h3m3 0h3m3 0h3m3 0h3m3-1h3m3 0h3m3 0h3m3 0h3m3 1h3m3 1h3m3 0h3m3 0h3m3 0h3m3 1h3m3 1h3m3 1h1m0 1h2m3 1h3m3 1h3m3 0h1m0 1h2m3 0h1m0 1h2m3 1h3m3 1h3m3 1h1m0 1h2m3 1h3m3 1h2m0 1h1m3 1h1m0 1h2m3 1h1m0 1h2m3 1h1m0 1h2m3 1h2m0 1h1m3 1h1m0 1h2m3 1h3m3 1h1m0 1h2m3 1h3m3 1h1m0 1h2m3 0h1m0 1h2m3 0h3m3 1h3m3 1h3m3 0h3m3 0h3m3 1h3m3 0h3m3 0h1m0-1h2m3 0h3m3 0h3m3-1h3m3 0h1m0-1h2m3 0h1m0-1h2m3-1h3m3-1h1m0-1h2m3-1h3m3-1h1m0-1h2m3-1h3m3-1h1m0-1h2m3-1h3m3-1h1m0-1h2m3-1h2m0-1h1m3-1h1m0-1h2m3-1h3m3-1h3m3-1h3m3-1h3m3 0h3m3 0h3m3 0h3m3 0h3m3 0h3m3 0h3m3 0h3m3-1h3m3 0h3m3 0h3m3 0h3m3-1h3m3 0h1m0-1h2m3 0h3m3-1h3m3-1h3m3 0h1m0-1h2m3 0h3m3-1h3m3 0h3m3 0h3m3 0h3m3 0h3m3 0h3m3 0h1m0 1h2m3 0h3m3 1h3m3 1h3m3 0h1m0 1h2m3 0h1m0 1h2m3 1h3m3 1h3m3 0h1m0 1h2m3 1h3m3 2h3m3 1h1m0 1h2m3 1h3m3 1h3m3 1h3m3 1h1m0 1h2m3 1h3m3 1h1m0 1h2m3 1h3m3 1h3m3 0h1m0 1h2m3 0h3m3 1h3m3 1h3m3 0h3m3 0h3m3 0h3m3 0h3m3 0h1m0-1h2m3 0h1m0-1h2m3-1h3m3-1h3m3 0h1m0-1h2m3 0h1m0-1h2m3-1h3m3-1h3m3-1h3m3-1h3m3-1h3m3-1h3m3 0h1m0-1h2m3 0h1m0-1h2m3-1h3m3 0h3m3 0h3m3 0h3m3 0h3m3-1h3m3 0h3m3 0h3m3-1h3m3 0h3m3 0h3m3 0h3m3 0h3m3 0h3m3 0h3m3 0h3m3 0h3m3 0h3m3 0h1m0 1h2m3 0h3m3 1h3m3 1h3" fill="none" stroke="#ff0000" stroke-width="1"/><line x1="6" y1="638.5" x2="1655" y2="638.5" stroke="#c0c0c0" stroke-dasharray="3 3"/><line x1="6" y1="688.5" x2="1655" y2="688.5" stroke="#c0c0c0" stroke-dasharray="3 3"/><path d="M6 639.5h10m0-1h3m0-1h2m0-1h11m0-1h3m0-1h2m0-1h2m0 1h1m-1 1h1m0 1h1m0 1h1m-1 1h1m0 1h1m0 1h1m-1 1h1m0 1h1m0 1h1m-1 1h1m0 1h2m0 1h3m0 1h2m0 1h6m0 1h8m0-1h4m0 1h2m0 1h1m0 1h1m0 1h2m0 1h1m0 1h3m0 1h4m0 1h4m0 1h4m0 1h3m0-1h2m0-1h2m0-1h2m0-1h2m0-1h3m0-1h2m0-1h2m0 1h1m0 1h1m0 1h1m0 1h1m0 1h1m0 1h1m0 1h1m0 1h1m0-1h1m0-1h1m0-1h2m0-1h1m0-1h1m0-1h1m0-1h2m0-1h3m0-1h2m0-1h4m0 1h4m0 1h3m0-1h3m0-1h2m0-1h4m0 1h4m0 1h3m0-1h2m0-1h2m0-1h2m0-1h1m0 1h1m0 1h1m0 1h1m0 1h1m0 1h1m0 1h1m0 1h1m0 1h5m0 1h5m0 1h3m0 1h2m0 1h4m0-1h4m0-1h4m0-1h4m0-1h3m0-1h2m0-1h2m0-1h2m0-1h2m0-1h3m0-1h2m0-1h2m0 1h1m0 1h1m0 1h2m0 1h1m0 1h1m0 1h1m0 1h3m0-1h4m0-1h4m0 1h4m0 1h2m0 1h2m0 1h1m0 1h1m0 1h2m0 1h1m0 1h2m0-1h3m0-1h2m0-1h6m0 1h4m0 1h2m0 1h2m0 1h1m0 1h2m0 1h1m-1-1h1m0-1h1m-1-1h1m0-1h1m-1-1h1m0-1h1m-1-1h1m-1-1h1m0-1h1m-1-1h1m0-1h1m-1-1h1m-1-1h1m0-1h1m-1-1h1m0-1h1m-1-1h1m0-1h1m-1-1h1m0-1h2m0-1h1m0-1h1m0-1h2m0-1h1m0-1h5m0 1h4m0-1h2m0-1h2m0-1h1m0-1h2m0-1h5m0 1h8m0 1h13m0 1h2m0 1h2m0 1h2m0 1h2m0-1h2m0-1h2m0-1h2m0-1h1m0-1h2m0-1h2m0-1h1m0-1h2m0-1h3m0-1h4m0-1h4m0-1h4m0-1h3m0-1h2m0-1h2m0-1h2m0-1h1m0 1h1m-1 1h1m0 1h1m-1 1h1m0 1h1m-1 1h1m0 1h1m0 1h1m-1 1h1m0 1h1m-1 1h1m0 1h1m-1 1h1m0 1h2m0-1h2m0-1h2m0-1h2m0-1h5m0 1h4m0 1h1m0 1h1m0 1h2m0 1h1m0 1h1m0 1h1m0 1h2m0-1h3m0-1h2m0-1h2m0 1h2m0 1h2m0 1h1m0 1h2m0 1h2m0-1h3m0-1h2m0-1h3m0 1h2m0 1h2m0 1h2m0 1h1m0 1h2m0 1h2m0 1h1m0 1h2m0 1h2m0-1h3m0-1h2m0-1h3m0-1h3m0-1h2m0-1h3m0 1h2m0 1h2m0 1h2m0 1h5m0 1h8m0-1h4m0 1h1m0 1h1m0 1h1m0 1h1m0 1h1m0 1h1m0 1h1m0 1h3m0-1h4m0-1h2m0 1h1m0 1h1m0 1h1m0 1h1m0 1h1m0 1h1m0 1h1m0 1h10m0-1h2m0-1h2m0-1h2m0-1h1m0 1h1m0 1h1m-1 1h1m0 1h1m0 1h1m0 1h1m0 1h1m-1 1h1m0 1h1m0 1h1m0 1h1m-1 1h1m0 1h1m-1 1h1m0 1h1m-1 1h1m0 1h1m0 1h1m-1 1h1m0 1h1m-1 1h1m0 1h1m-1 1h1m0 1h5m0 1h5m0-1h3m0-1h2m0-1h6m0-1h4m0-1h1m-1-1h1m0-1h1m0-1h1m-1-1h1m0-1h1m0-1h1m-1-1h1m0-1h1m0-1h1m-1-1h1m0-1h1m0 1h2m0 1h2m0 1h1m0 1h2m0 1h1m0 1h1m0 1h1m0 1h2m0 1h1m0 1h1m0 1h1m0 1h9m0-1h1m0-1h1m0-1h1m0-1h1m-1-1h1m0-1h1m0-1h1m0-1h1m0-1h2m0-1h2m0-1h2m0-1h2m0-1h1m0 1h1m0 1h1m0 1h2m0 1h1m0 1h1m0 1h1m0 1h2m0-1h2m0-1h2m0-1h2m0-1h5m0-1h4m0-1h1m0-1h1m0-1h2m0-1h1m0-1h1m0-1h1m0-1h2m0 1h3m0 1h2m0 1h3m0-1h3m0-1h2m0-1h6m0-1h8m0-1h4m0-1h2m0-1h1m0-1h1m0-1h2m0-1h1m0-1h1m0-1h1m0-1h1m0-1h2m0-1h1m0-1h1m0-1h1m0-1h1m0-1h1m0-1h1m0-1h1m0-1h1m-1-1h1m0-1h1m0-1h1m0-1h1m0-1h3m0 1h4m0 1h3m0-1h2m0-1h2m0-1h2m0-1h9m0 1h1m-1 1h1m0 1h1m0 1h1m-1 1h1m0 1h1m0 1h1m-1 1h1m0 1h1m0 1h1m-1 1h1m0 1h10m0 1h2m0 1h2m0 1h2m0 1h1m0-1h2m0-1h2m0-1h1m0-1h2m0-1h1m0 1h2m0 1h1m0 1h1m0 1h2m0 1h1m0 1h17m0-1h1m0-1h1m0-1h1m0-1h1m0-1h1m0-1h1m0-1h1m0-1h5m0-1h5m0 1h3m0 1h2m0 1h2m0-1h2m0-1h2m0-1h1m0-1h2m0-1h5m0-1h4m0-1h2m0-1h1m0-1h1m0-1h2m0-1h1m0-1h3m0-1h4m0-1h14m0 1h8m0 1h6m0-1h4m0-1h6m0-1h8m0 1h20m0 1h1m0 1h1m0 1h1m0 1h1m0 1h1m0 1h1m0 1h1m0 1h1m0 1h1m0 1h1m0 1h1m0 1h1m-1 1h1m0 1h1m0 1h1m0 1h1m0 1h1m-1 1h1m0 1h1m-1 1h1m0 1h1m-1 1h1m0 1h1m-1 1h1m0 1h1m-1 1h1m0 1h1m-1 1h1m0 1h1m-1 1h1m0 1h1m-1 1h1m0 1h1m-1 1h1m0-1h1m-1-1h1m0-1h1m-1-1h1m0-1h1m0-1h1m-1-1h1m0-1h1m0-1h1m-1-1h1m0-1h1m-1-1h1m0-1h1m0 1h2m0 1h2m0 1h1m0 1h2m0 1h3m0 1h4m0 1h2m0 1h2m0 1h2m0 1h1m0 1h2m0 1h3m0-1h4m0-1h3m0 1h2m0 1h2m0 1h2m0 1h1m0 1h2m0 1h2m0 1h1m0 1h2m0 1h3m0-1h4m0-1h3m0 1h2m0 1h2m0 1h2m0 1h1m0 1h1m0 1h1m0 1h1m0 1h1m0 1h1m0 1h1m0 1h1m0 1h3m0 1h4m0 1h2m0-1h2m0-1h2m0-1h1m0-1h2m0-1h1m0-1h1m-1-1h1m0-1h1m0-1h1m-1-1h1m0-1h1m0-1h1m-1-1h1m0-1h1m0-1h1m-1-1h1m0-1h1m0-1h1m0-1h1m0-1h2m0-1h1m0-1h1m0-1h1m0-1h2m0 1h3m0 1h2m0 1h6m0-1h4m0 1h2m0 1h2m0 1h1m0 1h2m0 1h2m0 1h3m0 1h2m0 1h2m-1-1h1m0-1h1m-1-1h1m0-1h1m-1-1h1m-1-1h1m0-1h1m-1-1h1m-1-1h1m0-1h1m-1-1h1m0-1h1m-1-1h1m-1-1h1m0-1h1m-1-1h1m-1-1h1m0-1h1m-1-1h1m0-1h1m-1-1h5m0 1h8m0-1h4m0-1h2m0-1h2m0-1h1m0-1h2m0-1h3m0 1h4m0 1h14m0-1h6m0 1h4m0 1h4m0-1h4m0-1h3m0-1h2m0-1h2m0-1h2m0-1h2m0 1h3m0 1h2m0 1h6m0-1h8m0 1h4m0-1h2m0-1h1m0-1h1m0-1h2m0-1h1m0-1h2m0 1h2m0 1h2m0 1h2m0 1h2m0 1h3m0 1h2m0 1h2m0-1h2m0-1h2m0-1h1m0-1h2m0-1h2m0-1h3m0-1h2m0-1h4m0 1h4m0 1h2m0 1h1m-1 1h1m0 1h1m0 1h1m-1 1h1m0 1h1m0 1h1m-1 1h1m0 1h1m0 1h1m-1 1h1m0 1h2m0-1h3m0-1h2m0-1h4m0-1h4m0-1h11m0 1h3m0 1h2m0 1h4m0-1h4m0-1h2m0 1h1m-1 1h1m0 1h1m-1 1h1m0 1h1m-1 1h1m0 1h1m-1 1h1m0 1h1m-1 1h1m0 1h1m-1 1h1m0 1h1m-1 1h1m0 1h1m0 1h2m0 1h2m0 1h1m0 1h2m0 1h5m0 1h12" fill="none" stroke="#1e90ff" stroke-width="1"/><polygon points="1318,38 1330,38 1324,44" fill="#c0c0c0"/><g><rect x="5" y="37" width="1651" height="1" fill="#000"/><rect x="5" y="533" width="1651" height="1" fill="#000"/><rect x="5" y="535" width="1651" height="1" fill="#000"/><rect x="5" y="596" width="1651" height="1" fill="#000"/><rect x="5" y="598" width="1651" height="1" fill="#000"/><rect x="5" y="727" width="1651" height="1" fill="#000"/><rect x="5" y="37" width="1" height="691" fill="#000"/><rect x="1655" y="37" width="1" height="691" fill="#000"/><rect x="5" y="534" width="1" height="1" fill="#fff"/><rect x="5" y="597" width="1" height="1" fill="#fff"/><rect x="1655" y="534" width="1" height="1" fill="#fff"/><rect x="1655" y="597" width="1" height="1" fill="#fff"/><rect x="1656" y="73" width="2" height="1" fill="#000"/><rect x="1656" y="122" width="2" height="1" fill="#000"/><rect x="1656" y="171" width="2" height="1" fill="#000"/><rect x="1656" y="220" width="2" height="1" fill="#000"/><rect x="1656" y="269" width="2" height="1" fill="#000"/><rect x="1656" y="318" width="2" height="1" fill="#000"/><rect x="1656" y="367" width="2" height="1" fill="#000"/><rect x="1656" y="416" width="2" height="1" fill="#000"/><rect x="1656" y="465" width="2" height="1" fill="#000"/><rect x="1656" y="514" width="2" height="1" fill="#000"/><rect x="1656" y="537" width="2" height="1" fill="#000"/><rect x="1656" y="584" width="2" height="1" fill="#000"/><rect x="1656" y="595" width="2" height="1" fill="#000"/><rect x="1656" y="600" width="2" height="1" fill="#000"/><rect x="1656" y="638" width="2" height="1" fill="#000"/><rect x="1656" y="688" width="2" height="1" fill="#000"/><rect x="1656" y="726" width="2" height="1" fill="#000"/><rect x="6" y="728" width="1" height="3" fill="#000"/><rect x="102" y="728" width="1" height="3" fill="#000"/><rect x="198" y="728" width="1" height="3" fill="#000"/><rect x="294" y="728" width="1" height="3" fill="#000"/><rect x="390" y="728" width="1" height="3" fill="#000"/><rect x="486" y="728" width="1" height="3" fill="#000"/><rect x="582" y="728" width="1" height="3" fill="#000"/><rect x="678" y="728" width="1" height="3" fill="#000"/><rect x="774" y="728" width="1" height="3" fill="#000"/><rect x="870" y="728" width="1" height="3" fill="#000"/><rect x="966" y="728" width="1" height="3" fill="#000"/><rect x="1062" y="728" width="1" height="3" fill="#000"/><rect x="1158" y="728" width="1" height="3" fill="#000"/><rect x="1254" y="728" width="1" height="3" fill="#000"/></g><g font-family="Liberation Sans, sans-serif" font-size="12.8px" fill="#000" text-rendering="geometricPrecision"><text x="1662" y="78">3019.375</text><text x="1662" y="127">3002.625</text><text x="1662" y="176">2986.210</text><text x="1662" y="225">2969.460</text><text x="1662" y="274">2953.045</text><text x="1662" y="323">2936.295</text><text x="1662" y="372">2919.880</text><text x="1662" y="421">2903.130</text><text x="1662" y="470">2886.380</text><text x="1662" y="519">2869.965</text><text x="1659" y="549">26.3044</text><text x="1659" y="589">0.00</text><text x="1659" y="593">-6.0683</text><text x="1659" y="612">100</text><text x="1659" y="643">70</text><text x="1659" y="693">30</text><text x="1659" y="724">0</text><text x="6" y="743" font-size="12.4px">10 Jun 2019</text><text x="102" y="743" font-size="12.4px">12 Jun 16:00</text><text x="198" y="743" font-size="12.4px">14 Jun 16:00</text><text x="294" y="743" font-size="12.4px">18 Jun 12:00</text><text x="390" y="743" font-size="12.4px">20 Jun 12:00</text><text x="486" y="743" font-size="12.4px">24 Jun 08:00</text><text x="582" y="743" font-size="12.4px">26 Jun 08:00</text><text x="678" y="743" font-size="12.4px">28 Jun 08:00</text><text x="774" y="743" font-size="12.4px">2 Jul 04:00</text><text x="870" y="743" font-size="12.4px">4 Jul 04:00</text><text x="966" y="743" font-size="12.4px">8 Jul 00:00</text><text x="1062" y="743" font-size="12.4px">10 Jul 00:00</text><text x="1158" y="743" font-size="12.4px">12 Jul 00:00</text><text x="1254" y="743" font-size="12.4px">15 Jul 20:00</text><text x="10" y="551" font-size="12.55px">MACD(12,26,9) 3.3018 6.2857</text><text x="10" y="614" font-size="12.45px">RSI(14) 46.8463</text></g><rect x="1657" y="106" width="63" height="14" fill="#000"/><rect x="1657" y="124" width="63" height="14" fill="#00ff7f"/><rect x="1657" y="272" width="63" height="14" fill="#0000ff"/><rect x="1657" y="360" width="63" height="14" fill="#0000ff"/><g font-family="Liberation Sans, sans-serif" font-size="12.8px" text-rendering="geometricPrecision"><text x="1662" y="118" fill="#fff">3005.750</text><text x="1662" y="136" fill="#fff">3000.000</text><text x="1662" y="284" fill="#fff">2950.000</text><text x="1662" y="372" fill="#fff">2920.000</text></g></svg>
<div class="abs ttl"><span style="letter-spacing:-.4px">SP500-,H4</span></div><div class="abs ttl" style="left:90px;top:40px;font-size:12.76px">3006.000 3006.250 3005.750 3005.750</div>
<svg class="abs" style="left:9px;top:44px" width="10" height="8" viewBox="0 0 10 8"><path d="M0 6.6 L4.6 1.2 L9.2 6.6Z" fill="#000"/></svg>
<div class="abs note" style="left:1160px;top:189px;letter-spacing:-4.7px;transform:scaleX(1.044);transform-origin:0 0">多空转折点</div><div class="abs note" style="left:1412.5px;top:185px;font-size:55px;transform:scaleX(.945);transform-origin:0 0">3000</div>
<!-- one click trading panel -->
<div class="abs" style="left:8px;top:58px;width:286px;height:79px;background:#fff"></div>
<div class="abs big" style="left:9px;top:87px;width:141px;height:49px"></div>
<div class="abs big" style="left:152px;top:87px;width:140px;height:49px"></div>
<div class="abs red" style="left:9px;top:60px;width:68px;height:28px"></div>
<div class="abs" style="left:13px;top:87px;width:60px;height:1px;background:#a80808"></div>
<div class="abs red" style="left:224px;top:60px;width:68px;height:28px"></div>
<div class="abs" style="left:228px;top:87px;width:60px;height:1px;background:#a80808"></div>
<div class="abs" style="left:79px;top:60px;width:143px;height:25px;box-sizing:border-box;border:1px solid #abadb3;background:#fff"></div>
<div class="abs" style="left:81px;top:62px;width:21px;height:21px;background:linear-gradient(#ececec 0,#e6e6e6 45%,#d2d2d2 50%,#d8d8d8);border-right:1px solid #b4b4b4"></div>
<div class="abs" style="left:198px;top:62px;width:22px;height:21px;background:linear-gradient(#ececec 0,#e6e6e6 45%,#d2d2d2 50%,#d8d8d8);border-left:1px solid #b4b4b4;box-sizing:border-box"></div>
<svg class="abs" style="left:86px;top:70px" width="12" height="8" viewBox="0 0 12 8"><path d="M1.5 1.5 H9.5 L5.5 5.5Z" fill="#4a63c4"/></svg>
<svg class="abs" style="left:204px;top:69px" width="12" height="8" viewBox="0 0 12 8"><path d="M1.5 5.5 H9.5 L5.5 1.5Z" fill="#4a63c4"/></svg>
<div class="abs" style="left:140px;top:62px;width:54px;height:21px;font-size:16px;line-height:21px;text-align:right">1.00</div>
<div class="abs w" style="left:26px;top:64px;font-size:16px;line-height:20px;transform:scaleX(.85);transform-origin:0 0">SELL</div>
<div class="abs w" style="left:243px;top:64px;font-size:16px;line-height:20px;transform:scaleX(.89);transform-origin:0 0">BUY</div>
<div class="abs w" style="left:30px;top:112px;font-size:14px;line-height:16px;font-weight:bold;transform:scaleX(1.12);transform-origin:0 0">3005</div>
<div class="abs w" style="left:70px;top:89px;font-size:40px;line-height:44px;transform:scaleX(.94);transform-origin:0 0">73</div>
<div class="abs w" style="left:120px;top:94px;font-size:14px;line-height:16px;font-weight:bold">5</div>
<div class="abs w" style="left:172px;top:112px;font-size:14px;line-height:16px;font-weight:bold;transform:scaleX(1.12);transform-origin:0 0">3006</div>
<div class="abs w" style="left:214.5px;top:89px;font-size:40px;line-height:44px;transform:scaleX(.94);transform-origin:0 0">51</div>
<div class="abs w" style="left:262.6px;top:94px;font-size:14px;line-height:16px;font-weight:bold">5</div>
</body></html>
